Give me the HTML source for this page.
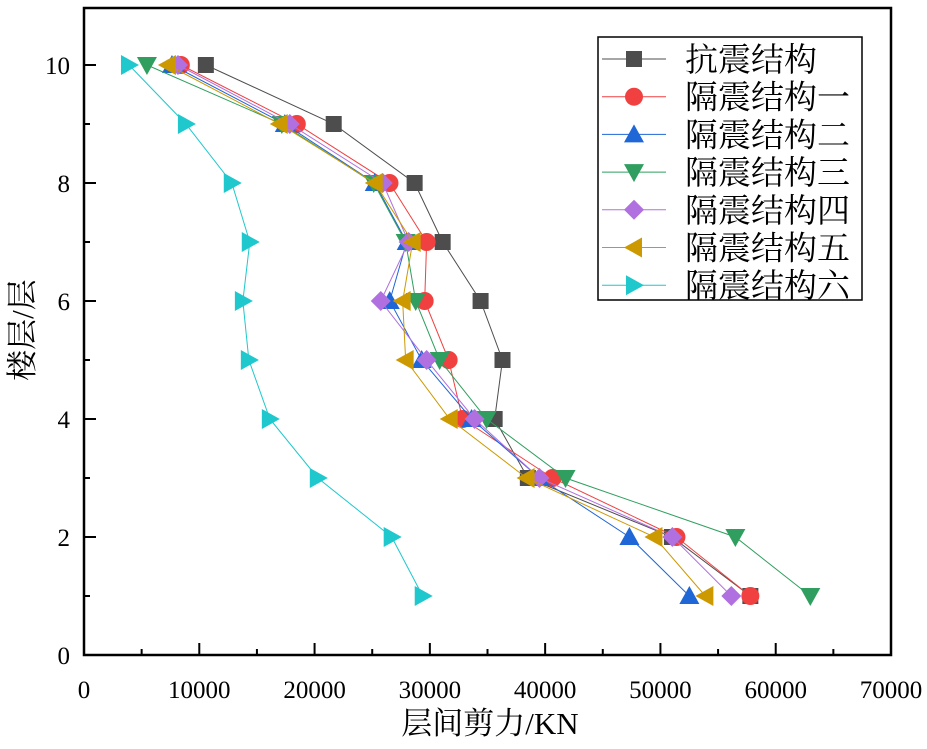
<!DOCTYPE html>
<html><head><meta charset="utf-8"><style>
html,body{margin:0;padding:0;background:#fff;}
svg text{font-family:"Liberation Serif","Noto Serif CJK SC",serif;fill:#000;}
</style></head><body>
<svg id="chart" width="927" height="744" xmlns="http://www.w3.org/2000/svg">
<g id="axes"></g><g id="series"></g><g id="legend"></g>
</svg>
<script>
const floors = [1,2,3,4,5,6,7,8,9,10];
const seriesNames = ["抗震结构","隔震结构一","隔震结构二","隔震结构三","隔震结构四","隔震结构五","隔震结构六"];
const sKangzhen = [57800,51000,38500,35620,36300,34400,31110,28680,21660,10570];
const sGeZhen1 = [57800,51390,40640,32840,31630,29550,29720,26500,18460,8400];
const sGeZhen2 = [52510,47310,39500,33620,29290,26520,27990,25220,17420,7630];
const sGeZhen3 = [63000,56500,41770,34920,30850,28770,27900,25130,17160,5460];
const sGeZhen4 = [56150,51040,39510,33880,29720,25740,28160,25910,17850,8150];
const sGeZhen5 = [53900,49480,38390,31720,27900,27640,28510,25220,16980,7280];
const sGeZhen6 = [29380,26690,20280,16120,14300,13780,14380,12820,8840,3900];
const xTicks = [0,10000,20000,30000,40000,50000,60000,70000];
const yTicks = [0,2,4,6,8,10];

const allSeries=[sKangzhen,sGeZhen1,sGeZhen2,sGeZhen3,sGeZhen4,sGeZhen5,sGeZhen6];
const colors=["#4d4d4d","#f04040","#1f66d6","#2f9e5f","#b070e0","#cc9900","#1ec8cc"];
const shapes=["square","circle","up","down","diamond","left","right"];
const L=84,R=891,T=8,B=655;
const X=v=>L+v/70000*(R-L);
const Yf=v=>655-v*59;
const NS="http://www.w3.org/2000/svg";
function mk(tag,attrs,parent){const e=document.createElementNS(NS,tag);for(const k in attrs)e.setAttribute(k,attrs[k]);parent.appendChild(e);return e;}
const ax=document.getElementById('axes');
const frame=mk('rect',{x:L,y:T,width:R-L,height:B-T,fill:'none',stroke:'#000','stroke-width':2.5},ax);


for(let i=0;i<xTicks.length;i++){
  const x=X(xTicks[i]);
  const t=mk('line',{x1:x,y1:B,x2:x,y2:B-12,stroke:'#000','stroke-width':2},ax);
  
  
  if(i<xTicks.length-1){const xm=X(xTicks[i]+5000);mk('line',{x1:xm,y1:B,x2:xm,y2:B-6,stroke:'#000','stroke-width':2},ax);}
  const lb=mk('text',{x:x,y:698,'text-anchor':'middle','font-size':25},ax);
  lb.textContent=xTicks[i];
  
  
}
for(let i=0;i<yTicks.length;i++){
  const y=Yf(yTicks[i]);
  const t=mk('line',{x1:L,y1:y,x2:L+12,y2:y,stroke:'#000','stroke-width':2},ax);
  
  
  if(yTicks[i]<10){const ym=Yf(yTicks[i]+1);mk('line',{x1:L,y1:ym,x2:L+6,y2:ym,stroke:'#000','stroke-width':2},ax);}
  const lb=mk('text',{x:70,y:y+9,'text-anchor':'end','font-size':25},ax);
  lb.textContent=yTicks[i];
  
  
}
const xt=mk('text',{x:490,y:734,'text-anchor':'middle','font-size':31},ax);
xt.textContent='层间剪力/KN';


const yt=mk('text',{x:0,y:0,'text-anchor':'middle','font-size':31,transform:'translate(33,330) rotate(-90)'},ax);
yt.textContent='楼层/层';



function marker(shape,cx,cy,c,parent){
  const s=10;let e;
  if(shape==='square')e=mk('rect',{x:cx-8,y:cy-8,width:16,height:16,fill:c},parent);
  else if(shape==='circle')e=mk('circle',{cx:cx,cy:cy,r:9,fill:c},parent);
  else{
    let p;
    if(shape==='up')p=[[0,-s],[s,s*0.8],[-s,s*0.8]];
    if(shape==='down')p=[[0,s],[s,-s*0.8],[-s,-s*0.8]];
    if(shape==='left')p=[[-s,0],[s*0.8,-s],[s*0.8,s]];
    if(shape==='right')p=[[s,0],[-s*0.8,-s],[-s*0.8,s]];
    if(shape==='diamond')p=[[0,-s],[s,0],[0,s],[-s,0]];
    e=mk('polygon',{points:p.map(q=>(cx+q[0])+','+(cy+q[1])).join(' '),fill:c},parent);
  }
  return e;
}
const sg=document.getElementById('series');
allSeries.forEach((vals,si)=>{
  const g=mk('g',{},sg);
  
  
  const pts=vals.map((v,i)=>X(v)+','+Yf(floors[i])).join(' ');
  const pl=mk('polyline',{points:pts,fill:'none',stroke:colors[si],'stroke-width':1},g);
  
  
  vals.forEach((v,i)=>{
    const m=marker(shapes[si],X(v),Yf(floors[i]),colors[si],g);
    
    
  });
});
const lg=document.getElementById('legend');
const box=mk('rect',{x:598,y:37,width:264,height:263,fill:'#fff',stroke:'#000','stroke-width':1.5},lg);


seriesNames.forEach((n,i)=>{
  const y=59+i*37.7;
  const g=mk('g',{},lg);
  
  
  mk('line',{x1:602,y1:y,x2:666,y2:y,stroke:colors[i],'stroke-width':1},g);
  marker(shapes[i],634,y,colors[i],g);
  const t=mk('text',{x:685,y:y+12,'font-size':33},g);
  t.textContent=n;
});
</script>
</body></html>
